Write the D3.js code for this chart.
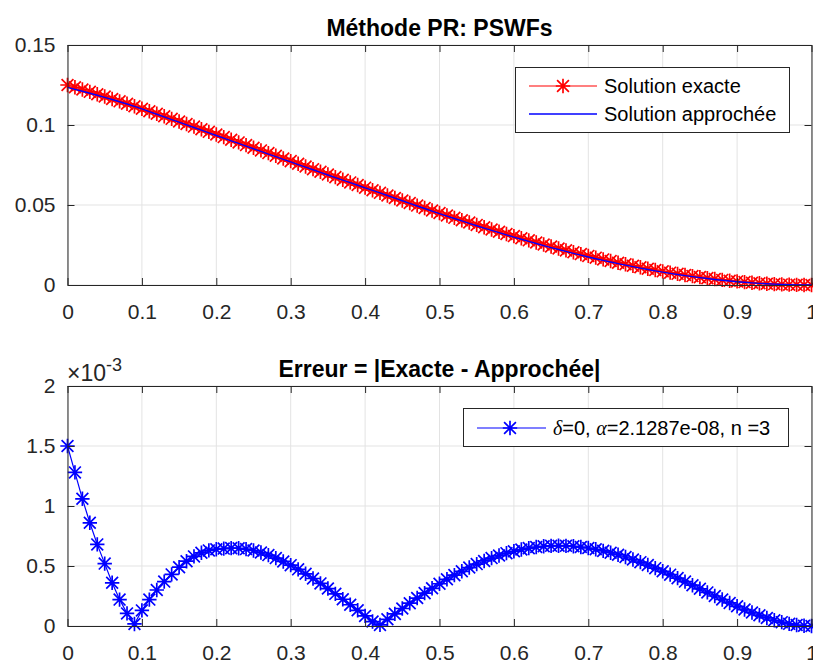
<!DOCTYPE html>
<html>
<head>
<meta charset="utf-8">
<script src="https://cdn.jsdelivr.net/npm/d3@7"></script>
<style>
  body { margin: 0; background: #fff; }
  svg { display: block; font-family: "Liberation Sans", Arial, Helvetica, sans-serif; }
  .tick text { fill: #262626; }
</style>
</head>
<body>
<svg id="chart" width="813" height="664"></svg>
<script>
// abscissa: 101 nodes, step 0.01
const xs = d3.range(101).map(i => i / 100);

// top panel: exact solution
const exactValues = [
  0.12500, 0.12359, 0.12216, 0.12072, 0.11926, 0.11778, 0.11628, 0.11477, 0.11325, 0.11171,
  0.11016, 0.10860, 0.10702, 0.10544, 0.10384, 0.10223, 0.10062, 0.09900, 0.09736, 0.09573,
  0.09408, 0.09243, 0.09077, 0.08911, 0.08745, 0.08578, 0.08411, 0.08244, 0.08077, 0.07909,
  0.07742, 0.07575, 0.07408, 0.07241, 0.07074, 0.06908, 0.06742, 0.06577, 0.06412, 0.06248,
  0.06084, 0.05921, 0.05759, 0.05598, 0.05438, 0.05279, 0.05121, 0.04963, 0.04808, 0.04653,
  0.04500, 0.04348, 0.04198, 0.04049, 0.03902, 0.03756, 0.03613, 0.03471, 0.03330, 0.03192,
  0.03056, 0.02922, 0.02790, 0.02660, 0.02532, 0.02407, 0.02284, 0.02164, 0.02046, 0.01931,
  0.01818, 0.01708, 0.01601, 0.01497, 0.01395, 0.01297, 0.01202, 0.01109, 0.01020, 0.00934,
  0.00852, 0.00773, 0.00697, 0.00625, 0.00557, 0.00492, 0.00430, 0.00373, 0.00319, 0.00270,
  0.00224, 0.00182, 0.00145, 0.00111, 0.00082, 0.00057, 0.00037, 0.00021, 0.00009, 0.00002,
  0
];

// bottom panel: |exacte - approchee|, in units of 1e-3
const errValues = [
  1.50, 1.28, 1.06, 0.86, 0.68, 0.52, 0.36, 0.22, 0.105, 0.017,
  0.13, 0.22, 0.30, 0.37, 0.43, 0.49, 0.54, 0.58, 0.61, 0.63,
  0.640, 0.645, 0.649, 0.648, 0.641, 0.629, 0.612, 0.591, 0.566, 0.538,
  0.507, 0.472, 0.435, 0.396, 0.355, 0.312, 0.268, 0.223, 0.177, 0.131,
  0.084, 0.037, 0.009, 0.056, 0.101, 0.146, 0.190, 0.233, 0.274, 0.314,
  0.352, 0.389, 0.424, 0.456, 0.487, 0.516, 0.542, 0.566, 0.587, 0.607,
  0.623, 0.637, 0.649, 0.658, 0.664, 0.668, 0.669, 0.668, 0.664, 0.658,
  0.650, 0.639, 0.626, 0.611, 0.594, 0.575, 0.554, 0.532, 0.508, 0.482,
  0.456, 0.428, 0.399, 0.370, 0.340, 0.310, 0.280, 0.250, 0.221, 0.192,
  0.164, 0.137, 0.112, 0.089, 0.067, 0.048, 0.032, 0.018, 0.008, 0.002,
  0
];

// approximate solution = exact minus the plotted error
const approxValues = exactValues.map((v, i) => v - errValues[i] * 1e-3);

const xTicks = [0, 0.1, 0.2, 0.3, 0.4, 0.5, 0.6, 0.7, 0.8, 0.9, 1];
const yTicksTop = [0, 0.05, 0.1, 0.15];
const yTicksBottom = [0, 0.5, 1, 1.5, 2];

const svg = d3.select("#chart");
const axisColor = "#262626";
const gridColor = "#e3e3e3";
const left = 67.5, right = 811.5;

// 8-armed asterisk marker, like matlab '*'
function star(s) {
  const d = s * 0.82;
  return `M${-s},0L${s},0M0,${-s}L0,${s}M${-d},${-d}L${d},${d}M${-d},${d}L${d},${-d}`;
}
const markerSize = 7.2, markerWidth = 1.7;

function panel(top, bottom, yDomain, yTicks, yFormat) {
  const x = d3.scaleLinear().domain([0, 1]).range([left, right]);
  const y = d3.scaleLinear().domain(yDomain).range([bottom, top]);
  const g = svg.append("g");

  // grid
  g.append("g")
    .selectAll("line").data(xTicks).join("line")
    .attr("x1", d => x(d)).attr("x2", d => x(d))
    .attr("y1", top).attr("y2", bottom)
    .attr("stroke", gridColor).attr("stroke-width", 1);
  g.append("g")
    .selectAll("line").data(yTicks).join("line")
    .attr("y1", d => y(d)).attr("y2", d => y(d))
    .attr("x1", left).attr("x2", right)
    .attr("stroke", gridColor).attr("stroke-width", 1);

  return { g, x, y, top, bottom, yTicks, yFormat };
}

function frame(p) {
  const { g, x, y, top, bottom, yTicks, yFormat } = p;
  const tl = 7;
  const axB = d3.axisBottom(x).tickValues(xTicks).tickSizeInner(-tl).tickSizeOuter(0)
    .tickPadding(19).tickFormat(d3.format("~g"));
  const axT = d3.axisTop(x).tickValues(xTicks).tickSizeInner(-tl).tickSizeOuter(0).tickFormat("");
  const axL = d3.axisLeft(y).tickValues(yTicks).tickSizeInner(-tl).tickSizeOuter(0)
    .tickPadding(12).tickFormat(yFormat);
  const axR = d3.axisRight(y).tickValues(yTicks).tickSizeInner(-tl).tickSizeOuter(0).tickFormat("");

  [[axB, `translate(0,${bottom})`], [axT, `translate(0,${top})`],
   [axL, `translate(${left},0)`], [axR, `translate(${right},0)`]].forEach(([ax, tr]) => {
    const a = g.append("g").attr("transform", tr).call(ax);
    a.attr("font-family", null);
    a.select(".domain").attr("stroke", axisColor).attr("stroke-width", 1);
    a.selectAll(".tick line").attr("stroke", axisColor).attr("stroke-width", 1);
    a.selectAll(".tick text").attr("font-size", 21);
  });
}

// ---------- top panel ----------
const p1 = panel(45, 285, [0, 0.15], yTicksTop, d3.format("~g"));
const line1 = d3.line().x((d, i) => p1.x(xs[i])).y(d => p1.y(d));

p1.g.append("path").datum(exactValues)
  .attr("d", line1).attr("fill", "none").attr("stroke", "#ff0000").attr("stroke-width", 1.2);
p1.g.append("g").selectAll("path").data(exactValues).join("path")
  .attr("transform", (d, i) => `translate(${p1.x(xs[i])},${p1.y(d)})`)
  .attr("d", star(markerSize)).attr("fill", "none").attr("stroke", "#ff0000").attr("stroke-width", markerWidth);
p1.g.append("path").datum(approxValues)
  .attr("d", line1).attr("fill", "none").attr("stroke", "#0000ff").attr("stroke-width", 1.4);
frame(p1);

svg.append("text").attr("x", 439.5).attr("y", 36).attr("text-anchor", "middle")
  .attr("font-size", 23).attr("font-weight", "bold").attr("fill", "#000")
  .text("Méthode PR: PSWFs");

// legend top
const lg1 = svg.append("g");
lg1.append("rect").attr("x", 515.5).attr("y", 67.5).attr("width", 274).attr("height", 65)
  .attr("fill", "#fff").attr("stroke", axisColor).attr("stroke-width", 1);
lg1.append("line").attr("x1", 529).attr("x2", 597).attr("y1", 86).attr("y2", 86)
  .attr("stroke", "#ff0000").attr("stroke-width", 1.2);
lg1.append("path").attr("transform", "translate(563,86)").attr("d", star(markerSize))
  .attr("fill", "none").attr("stroke", "#ff0000").attr("stroke-width", markerWidth);
lg1.append("line").attr("x1", 529).attr("x2", 597).attr("y1", 114).attr("y2", 114)
  .attr("stroke", "#0000ff").attr("stroke-width", 1.4);
lg1.append("text").attr("x", 604).attr("y", 93).attr("font-size", 20).attr("fill", "#000")
  .text("Solution exacte");
lg1.append("text").attr("x", 604).attr("y", 121).attr("font-size", 20).attr("fill", "#000")
  .text("Solution approchée");

// ---------- bottom panel ----------
const p2 = panel(386, 626, [0, 2], yTicksBottom, d3.format("~g"));
const line2 = d3.line().x((d, i) => p2.x(xs[i])).y(d => p2.y(d));

p2.g.append("path").datum(errValues)
  .attr("d", line2).attr("fill", "none").attr("stroke", "#0000ff").attr("stroke-width", 1.2);
p2.g.append("g").selectAll("path").data(errValues).join("path")
  .attr("transform", (d, i) => `translate(${p2.x(xs[i])},${p2.y(d)})`)
  .attr("d", star(markerSize)).attr("fill", "none").attr("stroke", "#0000ff").attr("stroke-width", markerWidth);
frame(p2);

svg.append("text").attr("x", 439.5).attr("y", 377).attr("text-anchor", "middle")
  .attr("font-size", 23).attr("font-weight", "bold").attr("fill", "#000")
  .text("Erreur = |Exacte - Approchée|");

// exponent label
const ex = svg.append("text").attr("x", 67).attr("y", 381).attr("font-size", 23).attr("fill", axisColor);
ex.append("tspan").text("\u00d710");
ex.append("tspan").attr("dy", -10).attr("font-size", 18).text("-3");

// legend bottom
const lg2 = svg.append("g");
lg2.append("rect").attr("x", 463.5).attr("y", 408.5).attr("width", 325).attr("height", 38)
  .attr("fill", "#fff").attr("stroke", axisColor).attr("stroke-width", 1);
lg2.append("line").attr("x1", 477).attr("x2", 546).attr("y1", 428).attr("y2", 428)
  .attr("stroke", "#0000ff").attr("stroke-width", 1.2);
lg2.append("path").attr("transform", "translate(510,428)").attr("d", star(markerSize))
  .attr("fill", "none").attr("stroke", "#0000ff").attr("stroke-width", markerWidth);
const lt = lg2.append("text").attr("x", 553).attr("y", 435).attr("font-size", 20).attr("fill", "#000");
lt.append("tspan").attr("font-family", "'Liberation Serif', 'DejaVu Serif', serif").attr("font-style", "italic").text("δ");
lt.append("tspan").text("=0, ");
lt.append("tspan").attr("font-family", "'Liberation Serif', 'DejaVu Serif', serif").attr("font-style", "italic").text("α");
lt.append("tspan").text("=2.1287e-08, n =3");
</script>
</body>
</html>
